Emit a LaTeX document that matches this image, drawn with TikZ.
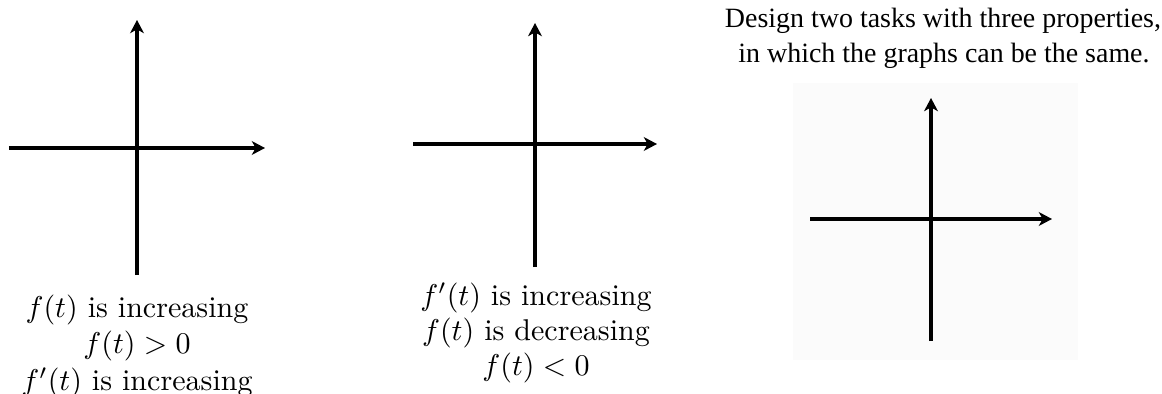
\documentclass[tikz,border=0pt]{standalone}
\usepackage{amsmath, amssymb}
\usepackage{fontspec}
\newfontfamily\titlefont{Liberation Serif}
\usepackage{tikz}
\usetikzlibrary{arrows.meta, calc}
\usepackage{xcolor}

\begin{document}
\begin{tikzpicture}[x=1.17cm, y=1.17cm, >={Stealth[length=4.4pt, width=4.6pt, inset=1.3pt]}]
  \tikzset{axis/.style={line width=1.3pt, ->}}
  \useasboundingbox (0,0) rectangle (11.62,3.93);

  % First graph
  \coordinate (A1l) at (0.09,2.45);
  \coordinate (A1r) at (2.65,2.45);
  \coordinate (A1b) at (1.37,1.18);
  \coordinate (A1t) at (1.37,3.73);
  \draw[axis] (A1l) -- (A1r);
  \draw[axis] (A1b) -- (A1t);
  \node[anchor=base] (p11) at (1.37,0.76) {$f(t)$ is increasing};
  \node[anchor=base] (p12) at (1.37,0.40) {$f(t)>0$};
  \node[anchor=base] (p13) at (1.37,0.03) {$f'(t)$ is increasing};

  % Second graph
  \coordinate (A2l) at (4.13,2.49);
  \coordinate (A2r) at (6.57,2.49);
  \coordinate (A2b) at (5.35,1.26);
  \coordinate (A2t) at (5.35,3.70);
  \draw[axis] (A2l) -- (A2r);
  \draw[axis] (A2b) -- (A2t);
  \node[anchor=base] (p21) at (5.36,0.88) {$f'(t)$ is increasing};
  \node[anchor=base] (p22) at (5.36,0.53) {$f(t)$ is decreasing};
  \node[anchor=base] (p23) at (5.36,0.18) {$f(t)<0$};

  % Third graph, on a pale square
  \fill[black!1.5] (7.93,0.33) rectangle (10.78,3.10);
  \coordinate (A3l) at (8.10,1.74);
  \coordinate (A3r) at (10.52,1.74);
  \coordinate (A3b) at (9.31,0.52);
  \coordinate (A3t) at (9.31,2.95);
  \draw[axis] (A3l) -- (A3r);
  \draw[axis] (A3b) -- (A3t);
  \node[anchor=base, font=\titlefont\fontsize{9.3}{11}\selectfont] (q1) at (9.43,3.65) {Design two tasks with three properties,};
  \node[anchor=base, font=\titlefont\fontsize{9.3}{11}\selectfont] (q2) at (9.44,3.30) {in which the graphs can be the same.};
\end{tikzpicture}
\end{document}
